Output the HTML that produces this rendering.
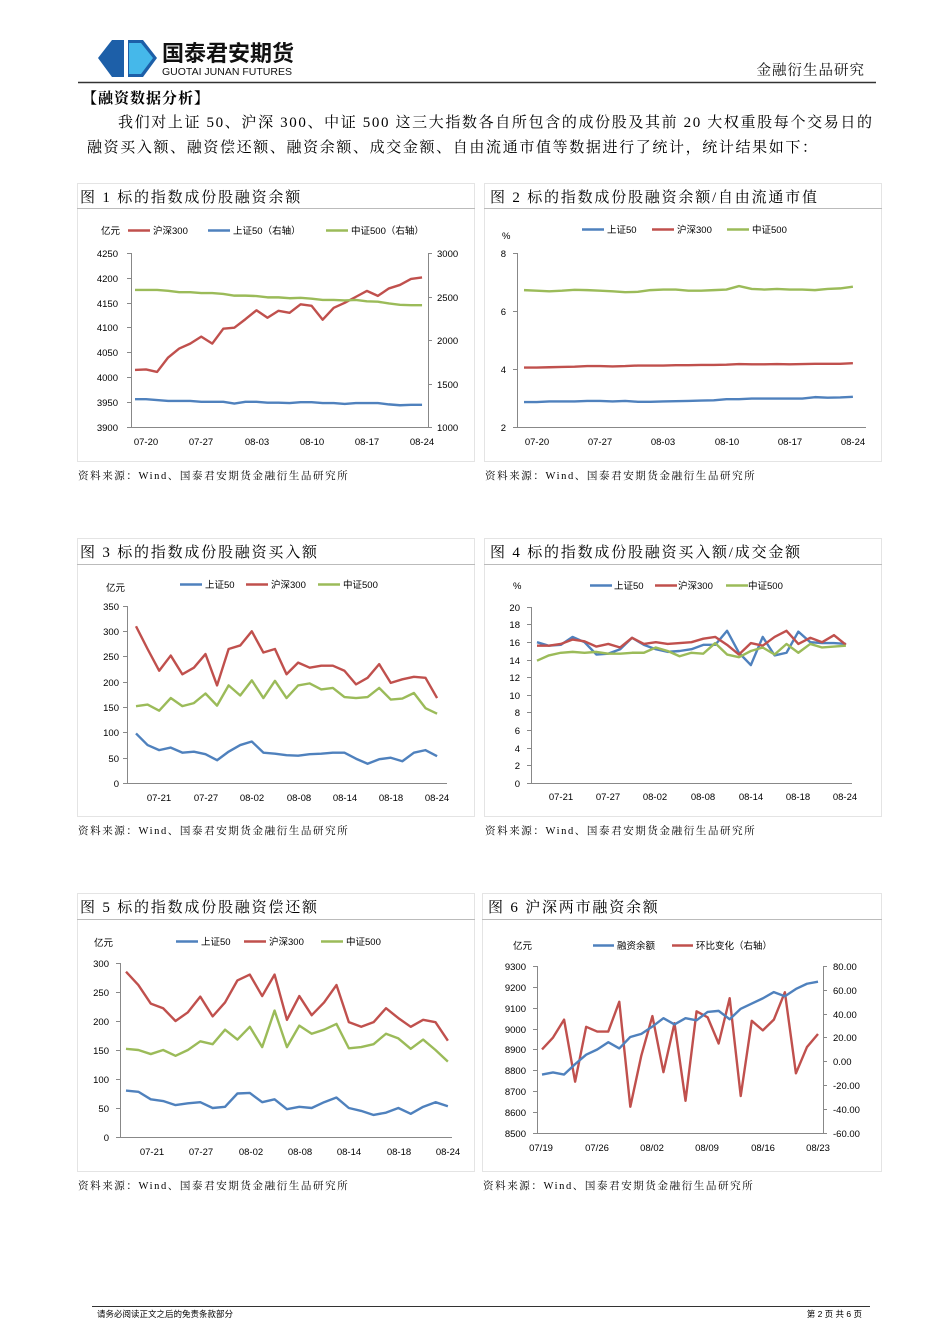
<!DOCTYPE html>
<html><head><meta charset="utf-8"><style>
html,body{margin:0;padding:0;background:#fff;}
svg{display:block}
.s{font-family:"Liberation Serif","Noto Serif CJK SC","Noto Sans CJK SC",serif;}
.a{font-family:"Liberation Sans","Noto Sans CJK SC",sans-serif;font-size:9.5px;fill:#000}
.t{font-family:"Liberation Serif","Noto Serif CJK SC",serif;font-size:15px;fill:#000;letter-spacing:1.8px}
.src{font-family:"Liberation Serif","Noto Serif CJK SC",serif;font-size:10.5px;fill:#000;letter-spacing:1.6px}
.ln{fill:none;stroke-width:2.4;vector-effect:non-scaling-stroke;stroke-linejoin:round}
.r{stroke:#c0504d}.b{stroke:#4f81bd}.g{stroke:#9bbb59}
.ax{stroke:#888;stroke-width:1;fill:none}
.pn{fill:none;stroke:#e4e4e4;stroke-width:1}
</style></head><body>
<svg width="950" height="1344" viewBox="0 0 950 1344" xmlns="http://www.w3.org/2000/svg">
<!-- header -->
<polygon points="112,40 143,40 157,58 143,77 112,77 98,58" fill="#1d5fa8"/>
<polygon points="129,43 141,43 153,58 141,74 129,74" fill="#45b8ea"/>
<rect x="124" y="40" width="4" height="37" fill="#fff"/>
<text x="162" y="61" font-family="Liberation Sans,Noto Sans CJK SC,sans-serif" font-size="22" font-weight="bold" fill="#111">国泰君安期货</text>
<text x="162" y="75" font-family="Liberation Sans,sans-serif" font-size="10.5" fill="#111" textLength="130">GUOTAI JUNAN FUTURES</text>
<text x="865" y="75" text-anchor="end" class="s" font-size="14.5" fill="#111" letter-spacing="1">金融衍生品研究</text>
<line x1="78" y1="82.5" x2="876" y2="82.5" stroke="#333" stroke-width="1.5"/>
<text x="82" y="103" class="s" font-size="15" font-weight="bold" letter-spacing="1">【融资数据分析】</text>
<text x="118" y="127" class="s" font-size="15" textLength="754">我们对上证 50、沪深 300、中证 500 这三大指数各自所包含的成份股及其前 20 大权重股每个交易日的</text>
<text x="87" y="152" class="s" font-size="15" textLength="730">融资买入额、融资偿还额、融资余额、成交金额、自由流通市值等数据进行了统计，统计结果如下：</text>

<!-- panels -->
<rect class="pn" x="77.5" y="183.5" width="397" height="278"/><line x1="77" y1="208.5" x2="475" y2="208.5" stroke="#bbb"/>
<rect class="pn" x="484.5" y="183.5" width="397" height="278"/><line x1="484" y1="208.5" x2="882" y2="208.5" stroke="#bbb"/>
<rect class="pn" x="77.5" y="538.5" width="397" height="278"/><line x1="77" y1="564.5" x2="475" y2="564.5" stroke="#bbb"/>
<rect class="pn" x="484.5" y="538.5" width="397" height="278"/><line x1="484" y1="564.5" x2="882" y2="564.5" stroke="#bbb"/>
<rect class="pn" x="77.5" y="893.5" width="397" height="278"/><line x1="77" y1="919.5" x2="475" y2="919.5" stroke="#bbb"/>
<rect class="pn" x="482.5" y="893.5" width="399" height="278"/><line x1="482" y1="919.5" x2="882" y2="919.5" stroke="#bbb"/>

<text x="80" y="202" class="t">图 1 标的指数成份股融资余额</text>
<text x="490" y="202" class="t">图 2 标的指数成份股融资余额/自由流通市值</text>
<text x="80" y="557" class="t">图 3 标的指数成份股融资买入额</text>
<text x="490" y="557" class="t">图 4 标的指数成份股融资买入额/成交金额</text>
<text x="80" y="912" class="t">图 5 标的指数成份股融资偿还额</text>
<text x="488" y="912" class="t">图 6 沪深两市融资余额</text>
<text x="78" y="479" class="src">资料来源：Wind、国泰君安期货金融衍生品研究所</text>
<text x="485" y="479" class="src">资料来源：Wind、国泰君安期货金融衍生品研究所</text>
<text x="78" y="834" class="src">资料来源：Wind、国泰君安期货金融衍生品研究所</text>
<text x="485" y="834" class="src">资料来源：Wind、国泰君安期货金融衍生品研究所</text>
<text x="78" y="1189" class="src">资料来源：Wind、国泰君安期货金融衍生品研究所</text>
<text x="483" y="1189" class="src">资料来源：Wind、国泰君安期货金融衍生品研究所</text>

<!-- Chart 1 -->
<path class="ax" d="M131.5,253V427.5H428.5V253 M127,253.5h4M127,278.5h4M127,303.5h4M127,327.5h4M127,352.5h4M127,377.5h4M127,402.5h4M127,427.5h4 M428,253.5h4M428,297.5h4M428,340.5h4M428,384.5h4M428,427.5h4"/>
<g class="a" text-anchor="end"><text x="118" y="257">4250</text><text x="118" y="282">4200</text><text x="118" y="307">4150</text><text x="118" y="331">4100</text><text x="118" y="356">4050</text><text x="118" y="381">4000</text><text x="118" y="406">3950</text><text x="118" y="431">3900</text></g>
<g class="a"><text x="437" y="257">3000</text><text x="437" y="301">2500</text><text x="437" y="344">2000</text><text x="437" y="388">1500</text><text x="437" y="431">1000</text></g>
<g class="a" text-anchor="middle"><text x="146" y="445">07-20</text><text x="201" y="445">07-27</text><text x="257" y="445">08-03</text><text x="312" y="445">08-10</text><text x="367" y="445">08-17</text><text x="422" y="445">08-24</text></g>
<text x="101" y="234" class="a">亿元</text>
<line class="ln r" x1="128" y1="230.5" x2="150" y2="230.5"/><text x="153" y="234" class="a">沪深300</text>
<line class="ln b" x1="208" y1="230.5" x2="230" y2="230.5"/><text x="233" y="234" class="a">上证50（右轴）</text>
<line class="ln g" x1="326" y1="230.5" x2="348" y2="230.5"/><text x="351" y="234" class="a">中证500（右轴）</text>
<g transform="translate(135,2365.8) scale(11.04,-0.4971)"><polyline class="ln r" points="0,4015 1,4016 2,4011 3,4040 4,4058 5,4068 6,4082 7,4068 8,4098 9,4100 10,4117 11,4135 12,4120 13,4134 14,4130 15,4147 16,4144 17,4116 18,4140 19,4150 20,4162 21,4174 22,4164 23,4179 24,4186 25,4198 26,4201"/></g>
<g transform="translate(135,514) scale(11.04,-0.087)">
<polyline class="ln g" points="0,2575 1,2575 2,2575 3,2565 4,2550 5,2550 6,2540 7,2540 8,2530 9,2510 10,2510 11,2505 12,2490 13,2490 14,2480 15,2485 16,2475 17,2460 18,2460 19,2455 20,2460 21,2445 22,2440 23,2420 24,2405 25,2400 26,2400"/>
<polyline class="ln b" points="0,1320 1,1320 2,1310 3,1300 4,1300 5,1300 6,1290 7,1290 8,1290 9,1270 10,1290 11,1290 12,1280 13,1280 14,1275 15,1285 16,1285 17,1275 18,1275 19,1265 20,1275 21,1275 22,1275 23,1260 24,1250 25,1255 26,1255"/></g>

<!-- Chart 2 -->
<path class="ax" d="M517.5,253V427.5H866 M513,253.5h4M513,311.5h4M513,369.5h4M513,427.5h4"/>
<g class="a" text-anchor="end"><text x="506" y="257">8</text><text x="506" y="315">6</text><text x="506" y="373">4</text><text x="506" y="431">2</text></g>
<g class="a" text-anchor="middle"><text x="537" y="445">07-20</text><text x="600" y="445">07-27</text><text x="663" y="445">08-03</text><text x="727" y="445">08-10</text><text x="790" y="445">08-17</text><text x="853" y="445">08-24</text></g>
<text x="502" y="239" class="a" font-size="8">%</text>
<line class="ln b" x1="582" y1="229.5" x2="604" y2="229.5"/><text x="607" y="233" class="a">上证50</text>
<line class="ln r" x1="652" y1="229.5" x2="674" y2="229.5"/><text x="677" y="233" class="a">沪深300</text>
<line class="ln g" x1="727" y1="229.5" x2="749" y2="229.5"/><text x="752" y="233" class="a">中证500</text>
<g transform="translate(524,485) scale(12.65,-29)">
<polyline class="ln g" points="0,6.72 1,6.70 2,6.68 3,6.70 4,6.73 5,6.72 6,6.70 7,6.68 8,6.65 9,6.66 10,6.72 11,6.74 12,6.74 13,6.70 14,6.70 15,6.72 16,6.74 17,6.86 18,6.76 19,6.74 20,6.76 21,6.74 22,6.74 23,6.72 24,6.76 25,6.78 26,6.84"/>
<polyline class="ln r" points="0,4.05 1,4.05 2,4.06 3,4.07 4,4.08 5,4.1 6,4.1 7,4.09 8,4.1 9,4.12 10,4.12 11,4.12 12,4.13 13,4.13 14,4.14 15,4.14 16,4.15 17,4.17 18,4.16 19,4.16 20,4.17 21,4.16 22,4.17 23,4.18 24,4.18 25,4.18 26,4.2"/>
<polyline class="ln b" points="0,2.86 1,2.86 2,2.88 3,2.88 4,2.88 5,2.9 6,2.9 7,2.88 8,2.9 9,2.87 10,2.87 11,2.88 12,2.89 13,2.9 14,2.91 15,2.92 16,2.96 17,2.96 18,2.98 19,2.98 20,2.98 21,2.98 22,2.98 23,3.03 24,3.01 25,3.02 26,3.04"/></g>

<!-- Chart 3 -->
<path class="ax" d="M127.5,606V783.5H447 M123,606.5h4M123,631.5h4M123,656.5h4M123,682.5h4M123,707.5h4M123,732.5h4M123,758.5h4M123,783.5h4"/>
<g class="a" text-anchor="end"><text x="119" y="610">350</text><text x="119" y="635">300</text><text x="119" y="660">250</text><text x="119" y="686">200</text><text x="119" y="711">150</text><text x="119" y="736">100</text><text x="119" y="762">50</text><text x="119" y="787">0</text></g>
<g class="a" text-anchor="middle"><text x="159" y="801">07-21</text><text x="206" y="801">07-27</text><text x="252" y="801">08-02</text><text x="299" y="801">08-08</text><text x="345" y="801">08-14</text><text x="391" y="801">08-18</text><text x="437" y="801">08-24</text></g>
<text x="106" y="591" class="a" font-size="8.5">亿元</text>
<line class="ln b" x1="180" y1="584.5" x2="202" y2="584.5"/><text x="205" y="588" class="a">上证50</text>
<line class="ln r" x1="246" y1="584.5" x2="268" y2="584.5"/><text x="271" y="588" class="a">沪深300</text>
<line class="ln g" x1="318" y1="584.5" x2="340" y2="584.5"/><text x="343" y="588" class="a">中证500</text>
<g transform="translate(136,783) scale(11.58,-0.5057)">
<polyline class="ln r" points="0,310 1,265 2,222 3,252 4,215 5,228 6,255 7,193 8,265 9,272 10,300 11,258 12,265 13,215 14,238 15,228 16,232 17,232 18,222 19,195 20,208 21,235 22,198 23,205 24,210 25,208 26,168"/>
<polyline class="ln g" points="0,152 1,155 2,143 3,168 4,152 5,158 6,177 7,153 8,193 9,173 10,203 11,168 12,202 13,168 14,193 15,197 16,185 17,188 18,170 19,168 20,170 21,188 22,165 23,167 24,178 25,148 26,137"/>
<polyline class="ln b" points="0,98 1,75 2,65 3,70 4,60 5,62 6,57 7,45 8,62 9,75 10,82 11,60 12,58 13,55 14,54 15,57 16,58 17,60 18,60 19,48 20,38 21,47 22,50 23,43 24,60 25,65 26,53"/></g>

<!-- Chart 4 -->
<path class="ax" d="M531.5,607V783.5H852 M527,607.5h4M527,624.5h4M527,642.5h4M527,660.5h4M527,677.5h4M527,695.5h4M527,712.5h4M527,730.5h4M527,748.5h4M527,765.5h4M527,783.5h4"/>
<g class="a" text-anchor="end"><text x="520" y="611">20</text><text x="520" y="628">18</text><text x="520" y="646">16</text><text x="520" y="664">14</text><text x="520" y="681">12</text><text x="520" y="699">10</text><text x="520" y="716">8</text><text x="520" y="734">6</text><text x="520" y="752">4</text><text x="520" y="769">2</text><text x="520" y="787">0</text></g>
<g class="a" text-anchor="middle"><text x="561" y="800">07-21</text><text x="608" y="800">07-27</text><text x="655" y="800">08-02</text><text x="703" y="800">08-08</text><text x="751" y="800">08-14</text><text x="798" y="800">08-18</text><text x="845" y="800">08-24</text></g>
<text x="513" y="589" class="a" font-size="8.5">%</text>
<line class="ln b" x1="590" y1="585.5" x2="612" y2="585.5"/><text x="614" y="589" class="a">上证50</text>
<line class="ln r" x1="655" y1="585.5" x2="677" y2="585.5"/><text x="678" y="589" class="a">沪深300</text>
<line class="ln g" x1="726" y1="585.5" x2="748" y2="585.5"/><text x="748" y="589" class="a">中证500</text>
<g transform="translate(537,783) scale(11.88,-8.8)">
<polyline class="ln b" points="0,16 1,15.6 2,15.7 3,16.6 4,16 5,14.6 6,14.7 7,15.2 8,16.5 9,15.7 10,15.2 11,14.9 12,15 13,15.2 14,15.7 15,15.7 16,17.3 17,14.8 18,13.4 19,16.6 20,14.5 21,14.8 22,17.2 23,16 24,15.9 25,15.9 26,15.8"/>
<polyline class="ln r" points="0,15.6 1,15.6 2,15.8 3,16.3 4,16.1 5,15.5 6,15.8 7,15.4 8,16.5 9,15.8 10,16 11,15.8 12,15.9 13,16 14,16.4 15,16.6 16,15.7 17,14.6 18,15.9 19,15.6 20,16.6 21,17.3 22,15.8 23,16.5 24,16 25,16.8 26,15.7"/>
<polyline class="ln g" points="0,13.9 1,14.5 2,14.8 3,14.9 4,14.8 5,14.9 6,14.7 7,14.7 8,14.8 9,14.8 10,15.4 11,15 12,14.4 13,14.8 14,14.7 15,15.9 16,14.6 17,14.3 18,15 19,15.4 20,14.6 21,15.8 22,14.8 23,15.8 24,15.4 25,15.5 26,15.6"/></g>

<!-- Chart 5 -->
<path class="ax" d="M120.5,963V1137.5H452 M116,963.5h4M116,992.5h4M116,1021.5h4M116,1050.5h4M116,1079.5h4M116,1108.5h4M116,1137.5h4"/>
<g class="a" text-anchor="end"><text x="109" y="967">300</text><text x="109" y="996">250</text><text x="109" y="1025">200</text><text x="109" y="1054">150</text><text x="109" y="1083">100</text><text x="109" y="1112">50</text><text x="109" y="1141">0</text></g>
<g class="a" text-anchor="middle"><text x="152" y="1155">07-21</text><text x="201" y="1155">07-27</text><text x="251" y="1155">08-02</text><text x="300" y="1155">08-08</text><text x="349" y="1155">08-14</text><text x="399" y="1155">08-18</text><text x="448" y="1155">08-24</text></g>
<text x="94" y="946" class="a" font-size="8.5">亿元</text>
<line class="ln b" x1="176" y1="941.5" x2="198" y2="941.5"/><text x="201" y="945" class="a">上证50</text>
<line class="ln r" x1="244" y1="941.5" x2="266" y2="941.5"/><text x="269" y="945" class="a">沪深300</text>
<line class="ln g" x1="321" y1="941.5" x2="343" y2="941.5"/><text x="346" y="945" class="a">中证500</text>
<g transform="translate(126,1137) scale(12.38,-0.58)">
<polyline class="ln r" points="0,285 1,262 2,230 3,222 4,200 5,215 6,242 7,208 8,232 9,270 10,280 11,243 12,280 13,202 14,243 15,210 16,232 17,262 18,198 19,190 20,198 21,222 22,205 23,190 24,202 25,198 26,166"/>
<polyline class="ln g" points="0,152 1,150 2,143 3,150 4,140 5,150 6,165 7,160 8,185 9,168 10,190 11,155 12,218 13,155 14,192 15,178 16,185 17,195 18,153 19,155 20,160 21,178 22,170 23,152 24,168 25,150 26,130"/>
<polyline class="ln b" points="0,80 1,78 2,65 3,62 4,55 5,58 6,60 7,50 8,52 9,75 10,76 11,60 12,65 13,48 14,52 15,50 16,60 17,68 18,50 19,45 20,38 21,42 22,50 23,40 24,52 25,60 26,53"/></g>

<!-- Chart 6 -->
<path class="ax" d="M537.5,966V1133.5H823.5V966 M533,966.5h4M533,987.5h4M533,1008.5h4M533,1029.5h4M533,1049.5h4M533,1070.5h4M533,1091.5h4M533,1112.5h4M533,1133.5h4 M823,966.5h4M823,990.5h4M823,1014.5h4M823,1037.5h4M823,1061.5h4M823,1085.5h4M823,1109.5h4M823,1133.5h4"/>
<g class="a" text-anchor="end"><text x="526" y="970">9300</text><text x="526" y="991">9200</text><text x="526" y="1012">9100</text><text x="526" y="1033">9000</text><text x="526" y="1053">8900</text><text x="526" y="1074">8800</text><text x="526" y="1095">8700</text><text x="526" y="1116">8600</text><text x="526" y="1137">8500</text></g>
<g class="a"><text x="833" y="970">80.00</text><text x="833" y="994">60.00</text><text x="833" y="1018">40.00</text><text x="833" y="1041">20.00</text><text x="833" y="1065">0.00</text><text x="833" y="1089">-20.00</text><text x="833" y="1113">-40.00</text><text x="833" y="1137">-60.00</text></g>
<g class="a" text-anchor="middle"><text x="541" y="1151">07/19</text><text x="597" y="1151">07/26</text><text x="652" y="1151">08/02</text><text x="707" y="1151">08/09</text><text x="763" y="1151">08/16</text><text x="818" y="1151">08/23</text></g>
<text x="513" y="949" class="a" font-size="8.5">亿元</text>
<line class="ln b" x1="593" y1="945.5" x2="614" y2="945.5"/><text x="617" y="949" class="a">融资余额</text>
<line class="ln r" x1="672" y1="945.5" x2="693" y2="945.5"/><text x="696" y="949" class="a">环比变化（右轴）</text>
<g transform="translate(542,1061.4) scale(11.04,-1.193)">
<polyline class="ln r" points="0,10 1,20 2,35 3,-17 4,29 5,25 6,25 7,50 8,-38 9,5 10,38 11,-9 12,32 13,-33 14,42 15,37 16,15 17,53 18,-29 19,34 20,26 21,35 22,58 23,-10 24,12 25,23"/></g>
<g transform="translate(542,1133) scale(11.04,-0.20875)">
<polyline class="ln b" points="0,280 1,290 2,280 3,330 4,375 5,400 6,435 7,405 8,460 9,475 10,510 11,550 12,520 13,550 14,540 15,580 16,585 17,545 18,595 19,620 20,645 21,675 22,655 23,690 24,715 25,725"/></g>

<!-- footer -->
<line x1="92" y1="1306.5" x2="870" y2="1306.5" stroke="#333" stroke-width="1"/>
<text x="97" y="1317" font-family="Liberation Sans,Noto Sans CJK SC,sans-serif" font-size="8.5">请务必阅读正文之后的免责条款部分</text>
<text x="862" y="1317" text-anchor="end" font-family="Liberation Sans,Noto Sans CJK SC,sans-serif" font-size="8.5">第 2 页 共 6 页</text>
</svg>
</body></html>
